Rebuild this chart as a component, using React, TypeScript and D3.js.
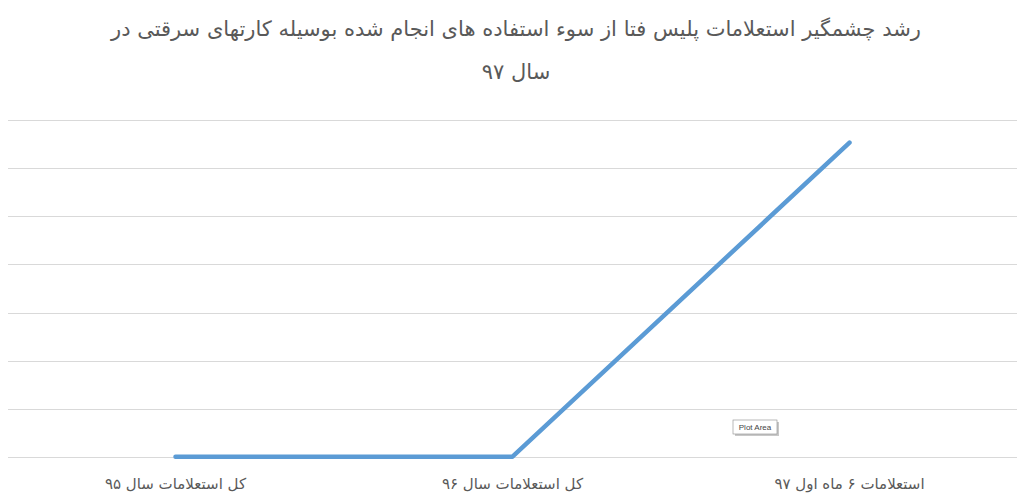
import React, { useEffect, useRef } from "react";
import * as d3 from "d3";

const categories = [
  "کل استعلامات سال ۹۵",
  "کل استعلامات سال ۹۶",
  "استعلامات ۶ ماه اول ۹۷",
];
const values = [4, 6, 6530];
const yTicks = [0, 1000, 2000, 3000, 4000, 5000, 6000, 7000];
const titleLines = [
  "رشد چشمگیر استعلامات پلیس فتا از سوء استفاده های انجام شده بوسیله کارتهای سرقتی در",
  "سال ۹۷",
];

const App = () => {
  const ref = useRef<SVGSVGElement | null>(null);

  useEffect(() => {
    if (!ref.current) return;
    const svg = d3.select(ref.current);
    svg.selectAll("*").remove();

    const width = 1024;
    const height = 498;
    const font = "'DejaVu Sans', sans-serif";

    svg.append("rect").attr("width", width).attr("height", height).attr("fill", "#fff");

    const x = d3.scalePoint<string>().domain(categories).range([7, 1018]).padding(0.5);
    const y = d3.scaleLinear().domain([0, 7000]).range([457, 120]);

    // gridlines
    svg
      .append("g")
      .selectAll("line")
      .data(yTicks)
      .enter()
      .append("line")
      .attr("x1", 8)
      .attr("x2", 1017)
      .attr("y1", (d) => Math.round(y(d)) + 0.5)
      .attr("y2", (d) => Math.round(y(d)) + 0.5)
      .attr("stroke", "#d9d9d9")
      .attr("stroke-width", 1);

    // title
    svg
      .append("g")
      .selectAll("text")
      .data(titleLines)
      .enter()
      .append("text")
      .attr("x", 516)
      .attr("y", (d, i) => 36 + i * 43)
      .attr("text-anchor", "middle")
      .attr("direction", "rtl")
      .attr("font-family", font)
      .attr("font-size", 21)
      .attr("fill", "#595959")
      .text((d) => d);

    // category labels
    svg
      .append("g")
      .selectAll("text")
      .data(categories)
      .enter()
      .append("text")
      .attr("x", (d) => x(d)!)
      .attr("y", 489)
      .attr("text-anchor", "middle")
      .attr("direction", "rtl")
      .attr("font-family", font)
      .attr("font-size", 15)
      .attr("fill", "#595959")
      .text((d) => d);

    // line
    const line = d3
      .line<number>()
      .x((d, i) => x(categories[i])!)
      .y((d) => y(d));

    svg
      .append("path")
      .datum(values)
      .attr("d", line)
      .attr("fill", "none")
      .attr("stroke", "#5b9bd5")
      .attr("stroke-width", 4.5)
      .attr("stroke-linecap", "round")
      .attr("stroke-linejoin", "round");

    // "Plot Area" tooltip
    const tip = svg.append("g").attr("transform", "translate(733,420)");
    tip.append("rect").attr("x", 2).attr("y", 2).attr("width", 44).attr("height", 14).attr("fill", "#c8c8c8");
    tip
      .append("rect")
      .attr("width", 44)
      .attr("height", 14)
      .attr("fill", "#fff")
      .attr("stroke", "#8a8a8a")
      .attr("stroke-width", 0.6);
    tip
      .append("text")
      .attr("x", 22)
      .attr("y", 10)
      .attr("text-anchor", "middle")
      .attr("font-family", "'Liberation Sans Narrow', 'Liberation Sans', sans-serif")
      .attr("font-size", 8)
      .attr("fill", "#444")
      .text("Plot Area");
  }, []);

  return (
    <svg
      ref={ref}
      width={1024}
      height={498}
      style={{ position: "absolute", left: 0, top: 0, display: "block" }}
    ></svg>
  );
};

export default App;
